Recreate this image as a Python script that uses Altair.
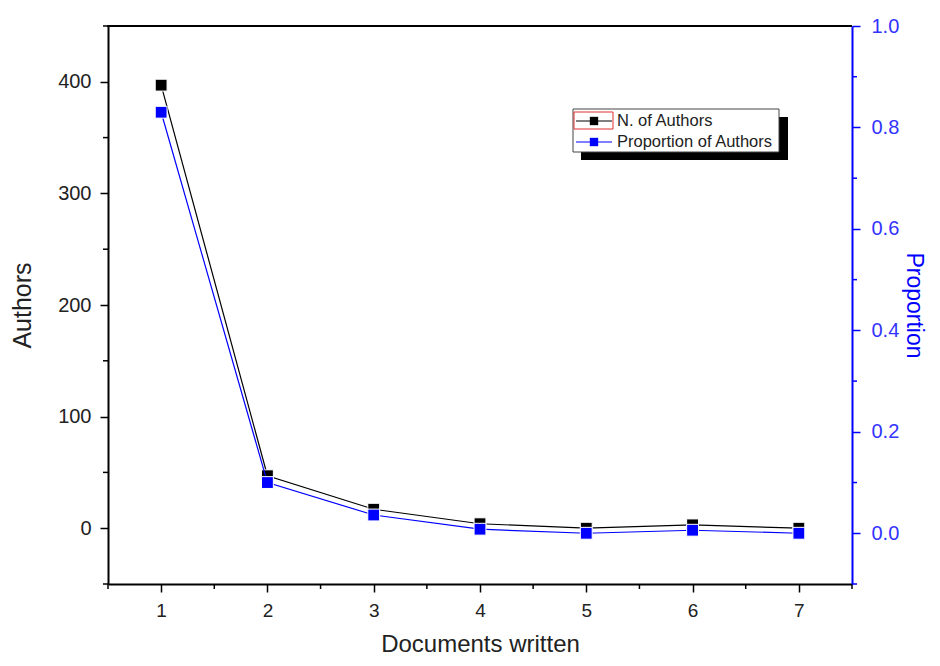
import altair as alt
import pandas as pd

# ---- data ----
docs = [1, 2, 3, 4, 5, 6, 7]
authors = [397, 47, 17, 4, 0, 3, 0]
proportion = [0.83, 0.10, 0.036, 0.008, 0.0, 0.006, 0.0]

x_major = [1, 2, 3, 4, 5, 6, 7]
x_minor = [0.5, 1.5, 2.5, 3.5, 4.5, 5.5, 6.5, 7.5]
left_major = [0, 100, 200, 300, 400]
left_minor = [-50, 50, 150, 250, 350, 450]
right_major = [0.0, 0.2, 0.4, 0.6, 0.8, 1.0]
right_minor = [-0.1, 0.1, 0.3, 0.5, 0.7, 0.9]

legend_labels = ["N. of Authors", "Proportion of Authors"]

W, H = 744, 558
FONT = "Liberation Sans"
BLUE = "#0000ff"

df = pd.DataFrame({"docs": docs, "authors": authors, "proportion": proportion})
xminor_df = pd.DataFrame({"v": x_minor})
lminor_df = pd.DataFrame({"v": left_minor})
rminor_df = pd.DataFrame({"v": right_minor})
one = pd.DataFrame({"a": [0]})

xscale = alt.Scale(domain=[0.5, 7.5], nice=False, zero=False)
lscale = alt.Scale(domain=[-50, 450], nice=False, zero=False)
rscale = alt.Scale(domain=[-0.1, 1.0], nice=False, zero=False)

xaxis = alt.Axis(values=x_major, title="Documents written", grid=False, format="d",
                 tickSize=8, tickWidth=1.5, tickColor="black",
                 domainColor="black", domainWidth=2,
                 labelFontSize=19, labelColor="#222", labelFont=FONT, labelPadding=9,
                 titleFontSize=24, titleFont=FONT, titleFontWeight="normal",
                 titleColor="#222", titlePadding=12)

laxis = alt.Axis(values=left_major, title="Authors", grid=False, orient="left",
                 tickSize=8, tickWidth=1.5, tickColor="black",
                 domainColor="black", domainWidth=2,
                 labelFontSize=20, labelColor="#222", labelFont=FONT, labelPadding=9,
                 titleFontSize=25, titleFont=FONT, titleFontWeight="normal",
                 titleColor="#222", titlePadding=22)

raxis = alt.Axis(values=right_major, title="Proportion", grid=False, orient="right",
                 format=".1f",
                 tickSize=8, tickWidth=1.5, tickColor=BLUE,
                 domainColor=BLUE, domainWidth=2,
                 labelFontSize=20, labelColor="#3333ff", labelFont=FONT, labelPadding=11,
                 titleFontSize=23, titleFont=FONT, titleFontWeight="normal",
                 titleColor=BLUE, titlePadding=3, titleAngle=90)

x_enc = alt.X("docs:Q", scale=xscale, axis=xaxis)

# left (black) group
l_line = alt.Chart(df).mark_line(color="black", strokeWidth=1.2).encode(
    x=x_enc, y=alt.Y("authors:Q", scale=lscale, axis=laxis))
l_pts = alt.Chart(df).mark_square(color="black", size=140, opacity=1,
                                  stroke="white", strokeWidth=1).encode(
    x=alt.X("docs:Q", scale=xscale), y=alt.Y("authors:Q", scale=lscale))
l_minor = alt.Chart(lminor_df).mark_rule(color="black", strokeWidth=1.5).encode(
    y=alt.Y("v:Q", scale=lscale), x=alt.value(0), x2=alt.value(-5))
x_minor_ticks = alt.Chart(xminor_df).mark_rule(color="black", strokeWidth=1.5).encode(
    x=alt.X("v:Q", scale=xscale), y=alt.value(H), y2=alt.value(H + 5))
top_line = alt.Chart(one).mark_rule(color="black", strokeWidth=2).encode(
    x=alt.value(-1), x2=alt.value(W), y=alt.value(0))
left_group = alt.layer(top_line, l_minor, x_minor_ticks, l_line, l_pts)

# right (blue) group
r_line = alt.Chart(df).mark_line(color=BLUE, strokeWidth=1.2).encode(
    x=alt.X("docs:Q", scale=xscale), y=alt.Y("proportion:Q", scale=rscale, axis=raxis))
r_pts = alt.Chart(df).mark_square(color=BLUE, size=140, opacity=1,
                                  stroke="white", strokeWidth=1).encode(
    x=alt.X("docs:Q", scale=xscale), y=alt.Y("proportion:Q", scale=rscale))
r_minor = alt.Chart(rminor_df).mark_rule(color=BLUE, strokeWidth=1.5).encode(
    y=alt.Y("v:Q", scale=rscale), x=alt.value(W), x2=alt.value(W + 5))
right_group = alt.layer(r_minor, r_line, r_pts)

# legend (drawn box with shadow)
lx0, ly0 = 465, 83
shadow = alt.Chart(one).mark_rect(color="black").encode(
    x=alt.value(lx0 + 8), x2=alt.value(lx0 + 215), y=alt.value(ly0 + 8), y2=alt.value(ly0 + 51))
box = alt.Chart(one).mark_rect(fill="white", stroke="#444", strokeWidth=1).encode(
    x=alt.value(lx0), x2=alt.value(lx0 + 206), y=alt.value(ly0), y2=alt.value(ly0 + 43))
sel = alt.Chart(one).mark_rect(fill="white", stroke="#e03030", strokeWidth=1).encode(
    x=alt.value(lx0 + 1), x2=alt.value(lx0 + 40), y=alt.value(ly0 + 3), y2=alt.value(ly0 + 20))
leg_l1 = alt.Chart(one).mark_rule(color="black", strokeWidth=1).encode(
    x=alt.value(lx0 + 3), x2=alt.value(lx0 + 39), y=alt.value(ly0 + 12))
leg_p1 = alt.Chart(one).mark_square(color="black", size=70, opacity=1).encode(
    x=alt.value(lx0 + 21), y=alt.value(ly0 + 12))
leg_l2 = alt.Chart(one).mark_rule(color=BLUE, strokeWidth=1).encode(
    x=alt.value(lx0 + 3), x2=alt.value(lx0 + 39), y=alt.value(ly0 + 33))
leg_p2 = alt.Chart(one).mark_square(color=BLUE, size=70, opacity=1).encode(
    x=alt.value(lx0 + 21), y=alt.value(ly0 + 33))
leg_t1 = alt.Chart(one).mark_text(align="left", baseline="middle", fontSize=16.5,
                                  font=FONT, color="#222", text=legend_labels[0]).encode(
    x=alt.value(lx0 + 44), y=alt.value(ly0 + 12))
leg_t2 = alt.Chart(one).mark_text(align="left", baseline="middle", fontSize=16.5,
                                  font=FONT, color="#222", text=legend_labels[1]).encode(
    x=alt.value(lx0 + 44), y=alt.value(ly0 + 33))
legend = alt.layer(shadow, box, sel, leg_l1, leg_p1, leg_l2, leg_p2, leg_t1, leg_t2)

chart = alt.layer(left_group, right_group, legend).resolve_scale(
    y="independent"
).properties(
    width=W, height=H,
    autosize=alt.AutoSizeParams(type="none"),
    padding={"left": 100, "top": 18, "right": 80, "bottom": 74},
    background="white",
).configure_view(stroke=None)

chart.save("out.html", embed_options={"renderer": "svg", "actions": False})
